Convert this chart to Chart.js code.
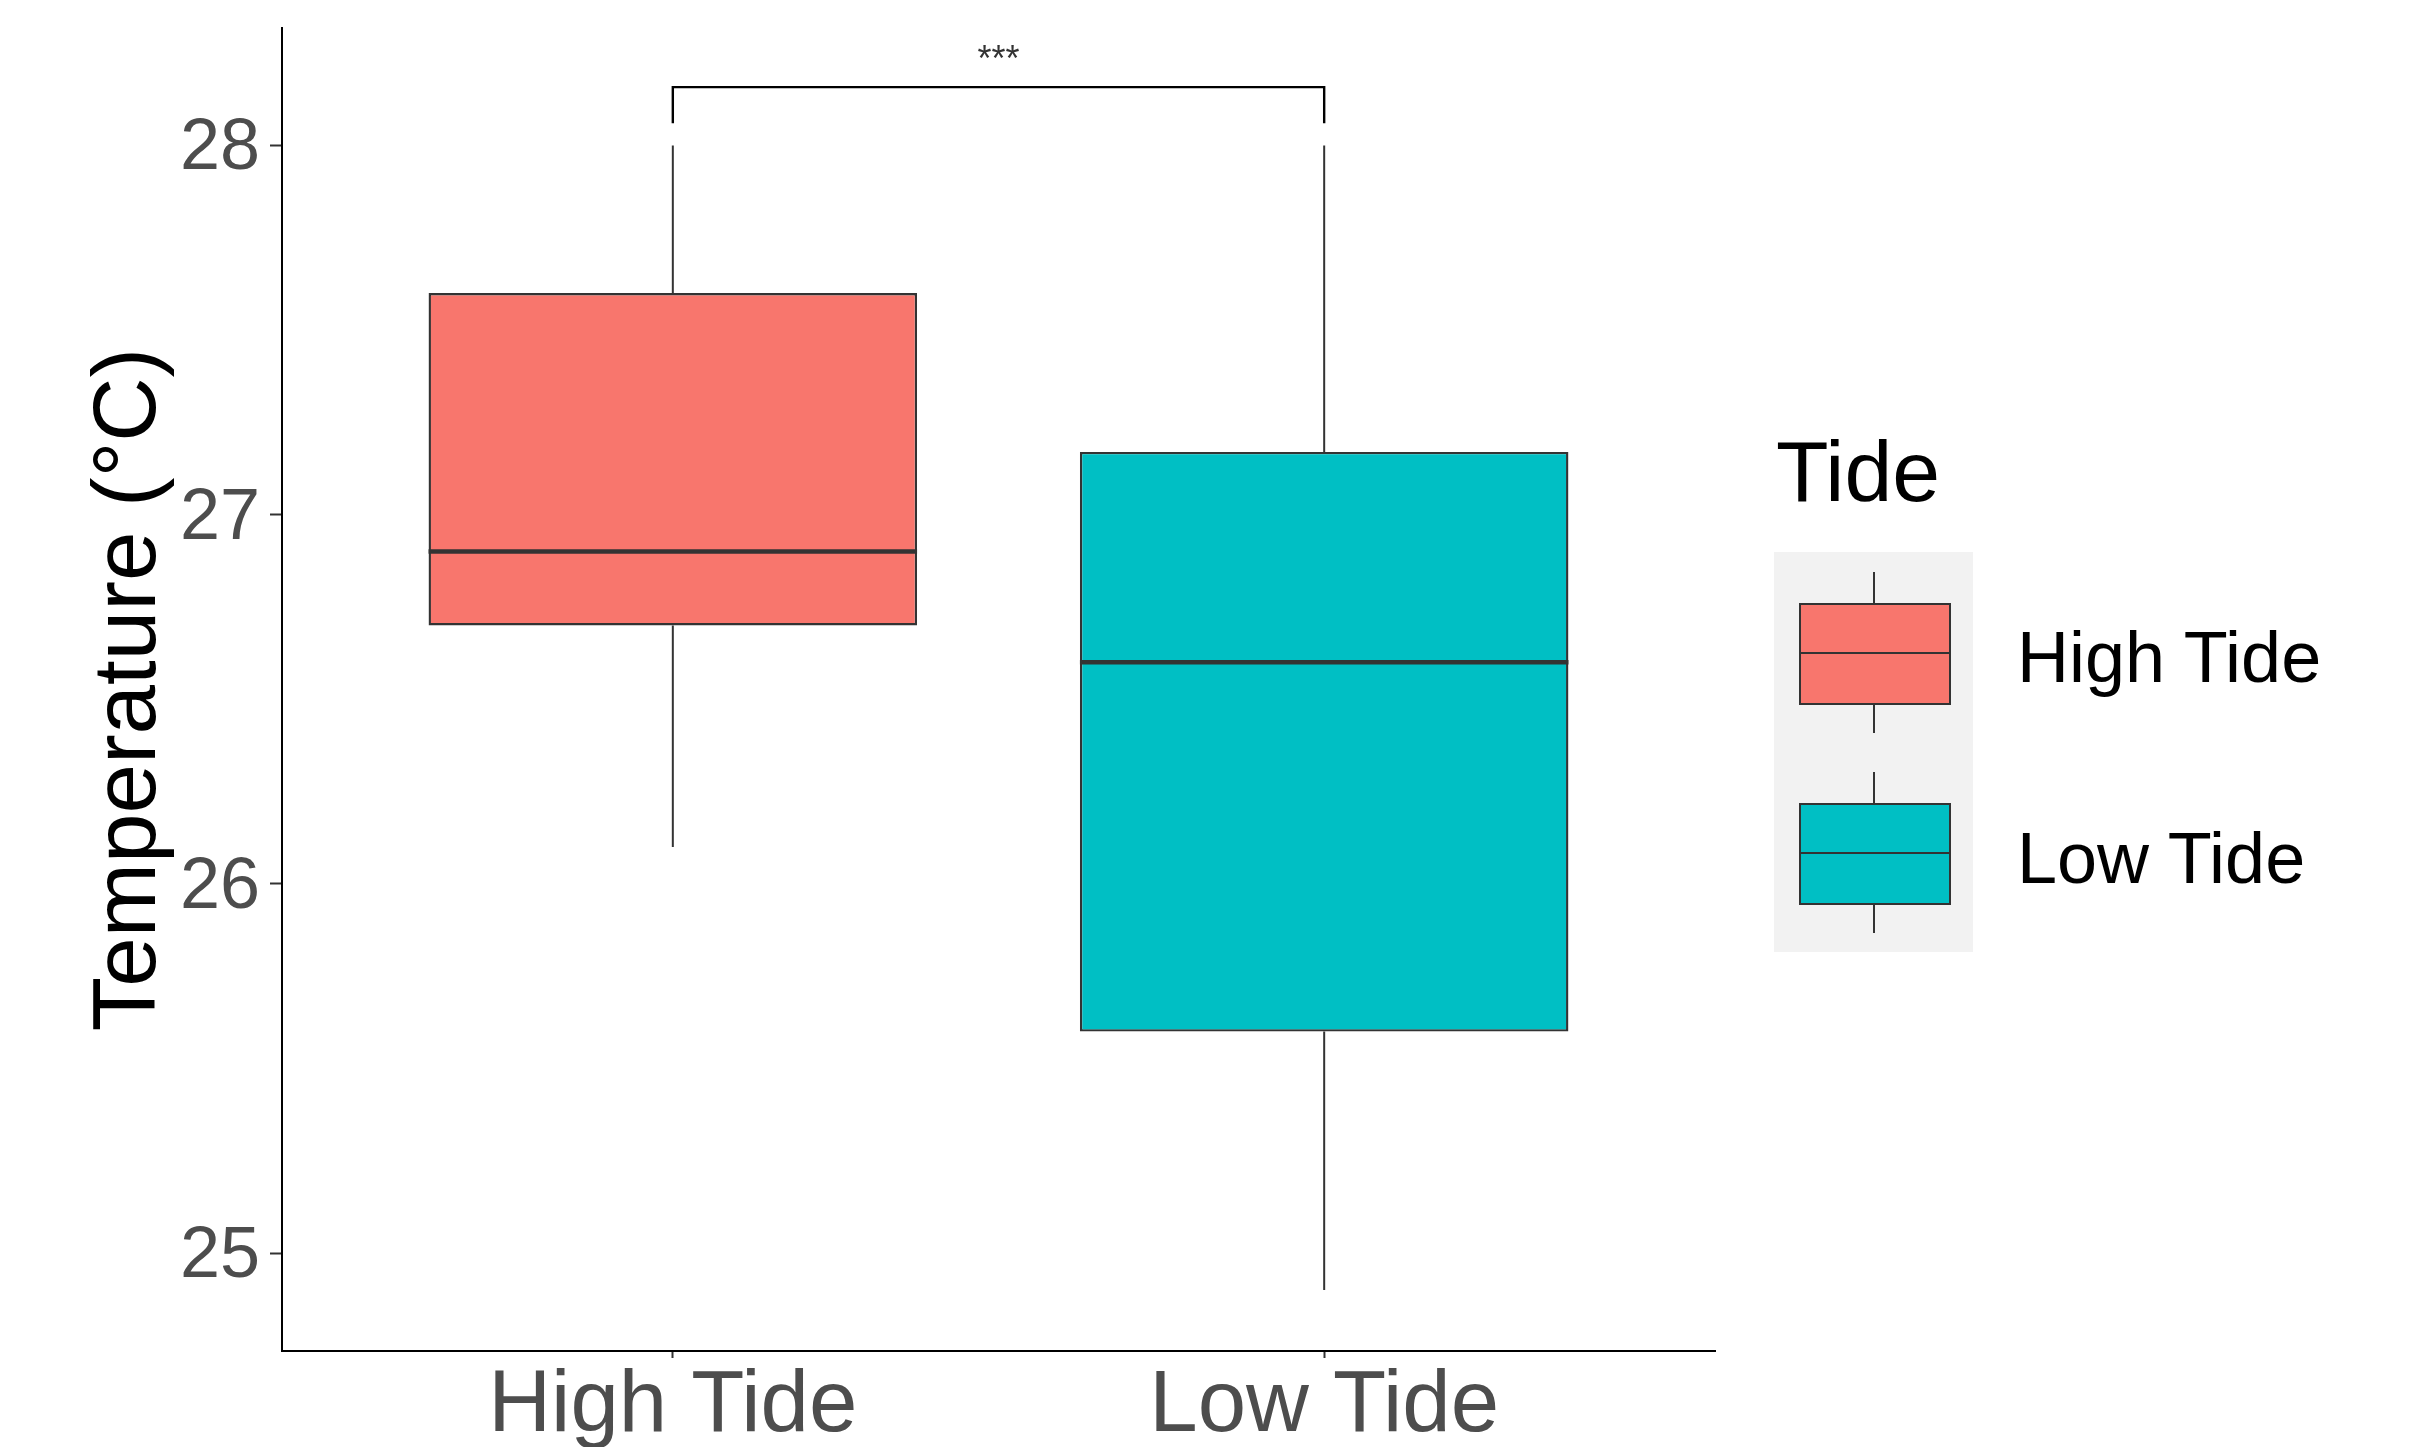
<!DOCTYPE html>
<html>
<head>
<meta charset="utf-8">
<script src="https://cdn.jsdelivr.net/npm/chart.js@4"></script>
<style>
    body { margin: 0; background: #fff; font-family: "Liberation Sans", Arial, sans-serif; }
    #wrap { position: relative; width: 2433px; height: 1447px; overflow: hidden; }
    #chart { position: absolute; left: 0; top: 0; }
    .legend-title { position: absolute; left: 1776px; top: 428px; font-size: 86px; line-height: 1; color: #000; }
    .legend-keys { position: absolute; left: 1774px; top: 552px; width: 199px; height: 400px; background: #f2f2f2; }
    .key-cell { position: absolute; left: 0; width: 199px; height: 200px; }
    .key-whisker { position: absolute; left: 99px; width: 2px; background: #333; }
    .key-box { position: absolute; left: 25px; top: 51px; width: 152px; height: 102px; box-sizing: border-box; border: 2px solid #333; }
    .key-median { position: absolute; left: 25px; top: 100px; width: 152px; height: 2px; background: #333; }
    .legend-label { position: absolute; left: 2017px; font-size: 72px; line-height: 1; color: #000; white-space: nowrap; }
</style>
</head>
<body>
<div id="wrap">
    <canvas id="chart" width="2433" height="1447"></canvas>
    <div id="legend"></div>
</div>
<script>
// box plot statistics
const categories = ['High Tide', 'Low Tide'];
const whiskerLow = [26.1, 24.9];
const q1 = [26.7, 25.6];
const median = [26.9, 26.6];
const q3 = [27.6, 27.17];
const whiskerHigh = [28.0, 28.0];
const fillColors = ['#F8766D', '#00BFC4'];

const yTicks = [25, 26, 27, 28];
const yMin = 24.735;
const yMax = 28.318;

// significance bracket (in temperature units)
const bracketTop = 28.158;
const bracketLegEnd = 28.06;
const starsLevel = 28.202;
const starsText = '***';

const fontFamily = '"Liberation Sans", Arial, sans-serif';

const boxplotExtras = {
    id: 'boxplotExtras',
    afterDatasetsDraw(chart) {
        const ctx = chart.ctx;
        const yScale = chart.scales.y;
        const bars = chart.getDatasetMeta(0).data;
        ctx.save();
        ctx.strokeStyle = '#333333';
        bars.forEach((bar, i) => {
            ctx.lineWidth = 2;
            ctx.beginPath();
            ctx.moveTo(bar.x, yScale.getPixelForValue(whiskerHigh[i]));
            ctx.lineTo(bar.x, yScale.getPixelForValue(q3[i]));
            ctx.moveTo(bar.x, yScale.getPixelForValue(q1[i]));
            ctx.lineTo(bar.x, yScale.getPixelForValue(whiskerLow[i]));
            ctx.stroke();

            const my = yScale.getPixelForValue(median[i]);
            ctx.lineWidth = 4.5;
            ctx.beginPath();
            ctx.moveTo(bar.x - bar.width / 2, my);
            ctx.lineTo(bar.x + bar.width / 2, my);
            ctx.stroke();
        });

        // bracket between the two groups
        const x1 = bars[0].x;
        const x2 = bars[1].x;
        const top = yScale.getPixelForValue(bracketTop);
        const legEnd = yScale.getPixelForValue(bracketLegEnd);
        ctx.strokeStyle = '#000';
        ctx.lineWidth = 2.4;
        ctx.beginPath();
        ctx.moveTo(x1, legEnd);
        ctx.lineTo(x1, top);
        ctx.lineTo(x2, top);
        ctx.lineTo(x2, legEnd);
        ctx.stroke();

        ctx.fillStyle = '#333333';
        ctx.font = '36px ' + fontFamily;
        ctx.textAlign = 'center';
        ctx.textBaseline = 'alphabetic';
        ctx.fillText(starsText, (x1 + x2) / 2, yScale.getPixelForValue(starsLevel));
        ctx.restore();
    }
};

function buildLegend() {
    const legend = document.getElementById('legend');

    const title = document.createElement('div');
    title.className = 'legend-title';
    title.textContent = 'Tide';
    legend.appendChild(title);

    const keys = document.createElement('div');
    keys.className = 'legend-keys';
    legend.appendChild(keys);

    categories.forEach((cat, i) => {
        const cell = document.createElement('div');
        cell.className = 'key-cell';
        cell.style.top = (i * 200) + 'px';

        const upper = document.createElement('div');
        upper.className = 'key-whisker';
        upper.style.top = '20px';
        upper.style.height = '31px';
        cell.appendChild(upper);

        const lower = document.createElement('div');
        lower.className = 'key-whisker';
        lower.style.top = '153px';
        lower.style.height = '28px';
        cell.appendChild(lower);

        const box = document.createElement('div');
        box.className = 'key-box';
        box.style.background = fillColors[i];
        cell.appendChild(box);

        const mid = document.createElement('div');
        mid.className = 'key-median';
        cell.appendChild(mid);

        keys.appendChild(cell);

        const label = document.createElement('div');
        label.className = 'legend-label';
        label.style.top = (621 + i * 201) + 'px';
        label.textContent = cat;
        legend.appendChild(label);
    });
}

function createChart() {
    const ctx = document.getElementById('chart').getContext('2d');
    new Chart(ctx, {
        type: 'bar',
        data: {
            datasets: [{
                data: categories.map((c, i) => ({ x: i + 1, y: [q1[i], q3[i]] })),
                backgroundColor: fillColors,
                borderColor: '#333333',
                borderWidth: 2.4,
                borderSkipped: false,
                categoryPercentage: 1,
                barPercentage: 0.75
            }]
        },
        options: {
            responsive: false,
            devicePixelRatio: 1,
            animation: false,
            events: [],
            layout: { padding: { top: 28, right: 718, bottom: 0, left: 0 } },
            plugins: {
                legend: { display: false },
                tooltip: { enabled: false }
            },
            scales: {
                x: {
                    type: 'linear',
                    min: 0.4,
                    max: 2.6,
                    offset: false,
                    grid: { drawOnChartArea: false, offset: false, tickLength: 7, tickColor: '#333333', tickWidth: 2 },
                    border: { display: true, color: '#000', width: 2 },
                    ticks: {
                        font: { family: fontFamily, size: 87, lineHeight: 1 },
                        color: '#4D4D4D',
                        padding: 6,
                        maxRotation: 0,
                        autoSkip: false,
                        callback: value => categories[value - 1] || ''
                    },
                    afterBuildTicks: scale => {
                        scale.ticks = categories.map((c, i) => ({ value: i + 1 }));
                    },
                    afterFit: scale => {
                        scale.height = 96;
                        scale.paddingLeft = 0;
                        scale.paddingRight = 0;
                    }
                },
                y: {
                    min: yMin,
                    max: yMax,
                    grid: { drawOnChartArea: false, tickLength: 12, tickColor: '#333333', tickWidth: 2 },
                    border: { display: true, color: '#000', width: 2 },
                    ticks: {
                        font: { family: fontFamily, size: 72, lineHeight: 1 },
                        color: '#4D4D4D',
                        padding: 10,
                        labelOffset: 4
                    },
                    afterBuildTicks: scale => {
                        scale.ticks = yTicks.map(v => ({ value: v }));
                    },
                    afterFit: scale => {
                        scale.width = 282;
                        scale.paddingTop = 0;
                        scale.paddingBottom = 0;
                    },
                    title: {
                        display: true,
                        text: 'Temperature (°C)',
                        color: '#000',
                        font: { family: fontFamily, size: 89 },
                        padding: { top: 77, bottom: 0 }
                    }
                }
            }
        },
        plugins: [boxplotExtras]
    });
}

document.addEventListener('DOMContentLoaded', function () {
    buildLegend();
    createChart();
});
</script>
</body>
</html>
